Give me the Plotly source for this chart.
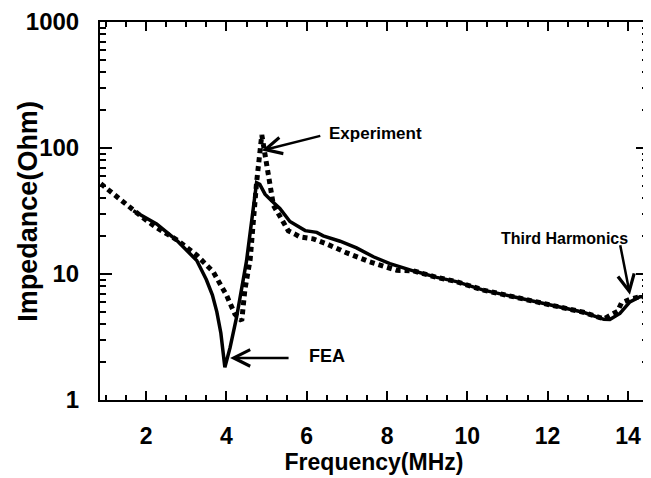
import plotly.graph_objects as go

# Frequency (MHz) and impedance (Ohm)
fea_freq = [1.68, 2.26, 2.76, 3.26, 3.5, 3.65, 3.76, 3.86, 3.96, 4.09, 4.25, 4.5, 4.67, 4.75,
            4.83, 4.96, 5.13, 5.33, 5.58, 5.96, 6.25, 6.41, 6.83, 7.24, 7.66, 8.07, 8.65,
            9.24, 9.73, 10.4, 11.23, 12.06, 12.89, 13.4, 13.55, 13.8, 14.05, 14.3, 14.5]
fea_imp = [31.8, 25, 18.5, 12.8, 9.0, 6.8, 5.0, 3.4, 1.82, 2.6, 4.5, 12.7, 33.6, 53,
           51.5, 43, 38, 33.2, 26.1, 22.1, 21.4, 20.1, 18.2, 16.1, 13.7, 12.1, 10.6,
           9.4, 8.7, 7.45, 6.5, 5.7, 4.97, 4.37, 4.35, 4.87, 6.0, 6.6, 6.6]

exp_freq = [0.87, 1.43, 1.93, 2.26, 2.76, 3.26, 3.67, 4.0, 4.21, 4.38, 4.46, 4.59, 4.67,
            4.75, 4.88, 5.0, 5.08, 5.17, 5.38, 5.54, 5.71, 5.83, 6.16, 6.5, 7.0, 7.57,
            8.24, 8.65, 9.24, 9.73, 10.4, 11.23, 12.06, 12.89, 13.4, 13.74, 13.84, 14.05,
            14.3, 14.5]
exp_imp = [52, 37, 27.8, 23.3, 18.7, 14.1, 10.4, 6.8, 4.8, 4.25, 7.55, 13, 29,
           53, 127, 72, 47, 35, 27, 22, 20.7, 19.7, 19.0, 17.3, 14.7, 12.5,
           10.7, 10.6, 9.4, 8.7, 7.45, 6.5, 5.7, 4.97, 4.4, 5.05, 5.9, 6.3,
           6.6, 6.6]

x_ticks = [2, 4, 6, 8, 10, 12, 14]
y_ticks = [1, 10, 100, 1000]
y_ticktext = ["1", "10", "100", "1000"]
y_minor = [m * d for d in (1, 10, 100) for m in range(2, 10)]

fig = go.Figure()
fig.add_trace(go.Scatter(x=exp_freq, y=exp_imp, mode="lines", name="Experiment",
                         line=dict(color="black", width=5, dash="5px,4px")))
fig.add_trace(go.Scatter(x=fea_freq, y=fea_imp, mode="lines", name="FEA",
                         line=dict(color="black", width=3.5)))

font = "Liberation Sans, Arial, Helvetica, sans-serif"
axis_common = dict(showline=True, linecolor="black", linewidth=2, mirror="allticks",
                   ticks="inside", tickcolor="black", tickwidth=2, showgrid=False,
                   zeroline=False, automargin=False, ticklabeloverflow="allow")

fig.update_xaxes(range=[0.85, 14.5], tickvals=x_ticks, ticklen=9,
                 ticklabelstandoff=14,
                 tickfont=dict(family=font, size=23, color="black", weight="bold"),
                 minor=dict(dtick=0.5, ticks="inside", ticklen=5, tickwidth=2,
                            tickcolor="black", showgrid=False),
                 title=dict(text="Frequency(MHz)", standoff=0,
                            font=dict(family=font, size=23, color="black", weight="bold")),
                 **axis_common)
fig.update_yaxes(type="log", range=[0, 3], tickvals=y_ticks, ticktext=y_ticktext,
                 ticklen=12, ticklabelstandoff=14,
                 tickfont=dict(family=font, size=24, color="black", weight="bold"),
                 minor=dict(tickvals=y_minor, ticks="inside", ticklen=6, tickwidth=2,
                            tickcolor="black", showgrid=False),
                 **axis_common)

# y-axis title placed as an annotation (sits closer to the axis than the widest label)
fig.add_annotation(xref="paper", yref="paper", x=-0.132, y=0.5, text="Impedance(Ohm)",
                   textangle=-90, showarrow=False, xanchor="center", yanchor="middle",
                   font=dict(family=font, size=27, color="black", weight="bold"))

ann_font = dict(family=font, size=16, color="black", weight="bold")
# arrows
fig.add_annotation(x=4.88, y=1.98, ax=60, ay=-15, text="", showarrow=True,
                   arrowhead=5, arrowsize=1.3, arrowwidth=2.5, arrowcolor="black")
fig.add_annotation(x=4.09, y=0.334, ax=60, ay=0, text="", showarrow=True,
                   arrowhead=5, arrowsize=1.3, arrowwidth=2.5, arrowcolor="black")
fig.add_annotation(x=14.05, y=0.836, ax=-10, ay=-51, text="", showarrow=True,
                   arrowhead=5, arrowsize=1.3, arrowwidth=2.5, arrowcolor="black")
# labels
fig.add_annotation(x=6.5, y=2.118, text="Experiment", showarrow=False,
                   xanchor="left", yanchor="middle",
                   font=dict(family=font, size=17, color="black", weight="bold"))
fig.add_annotation(x=6.0, y=0.352, text="FEA", showarrow=False,
                   xanchor="left", yanchor="middle",
                   font=dict(family=font, size=18, color="black", weight="bold"))
fig.add_annotation(x=12.43, y=1.284, text="Third Harmonics", showarrow=False,
                   xanchor="center", yanchor="middle", font=ann_font)

# the page body adds an 8px offset, so margins are shifted to keep the plot area in place
fig.update_layout(width=651, height=478, showlegend=False,
                  paper_bgcolor="white", plot_bgcolor="white",
                  margin=dict(l=92, r=11, t=14, b=86))

fig.write_html("out.html")
